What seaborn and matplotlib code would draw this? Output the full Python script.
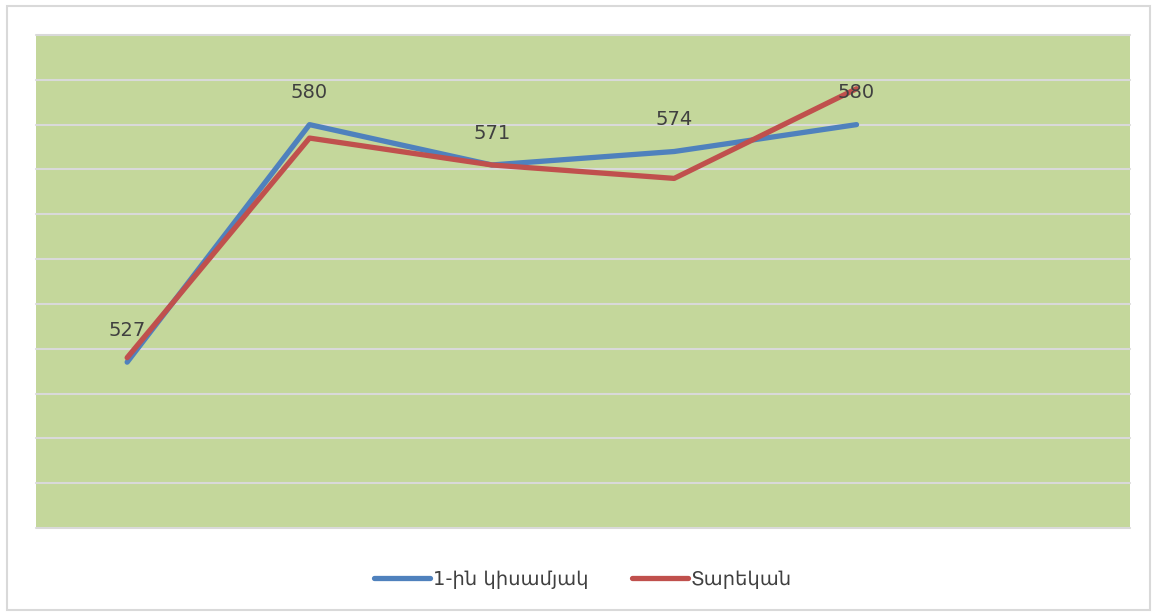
import matplotlib.pyplot as plt
import seaborn as sns
import pandas as pd

series_names = ["1-ին կիսամյակ", "Տարեկան"]
points = [0, 1, 2, 3, 4]
half_year = [527, 580, 571, 574, 580]
annual = [528, 577, 571, 568, 588]
colors = ["#4F81BD", "#C0504D"]

df = pd.DataFrame({
    "x": points * 2,
    "value": half_year + annual,
    "series": [series_names[0]] * 5 + [series_names[1]] * 5,
})

sns.set_style("white")
plt.rcParams["font.family"] = ["DejaVu Sans"]

fig = plt.figure(figsize=(11.57, 6.16), dpi=100)
ax = fig.add_axes([0.0311, 0.1429, 0.9456, 0.8003])
ax.set_facecolor("#C4D79B")

sns.lineplot(
    data=df, x="x", y="value", hue="series",
    palette=colors, linewidth=3.8, ax=ax,
    solid_capstyle="round", legend=True,
)

# light gridlines every 10
for v in range(490, 601, 10):
    ax.axhline(v, color="#D9D9D9", linewidth=1.5, zorder=0.5, clip_on=False)

ax.set_xlim(-0.5, 5.5)
ax.set_ylim(490, 600)
ax.set_xticks([])
ax.set_yticks([])
ax.set_xlabel("")
ax.set_ylabel("")
for s in ax.spines.values():
    s.set_visible(False)

# data labels for the first series
for xi, yi in zip(points, half_year):
    ax.annotate(str(yi), (xi, yi), xytext=(0, 23), textcoords="offset points",
                ha="center", va="center", fontsize=14, color="#404040")

leg = ax.legend(loc="center", bbox_to_anchor=(0.5, -0.104), ncol=2,
                frameon=False, fontsize=14, handlelength=2.9,
                columnspacing=2.2, handletextpad=0.15)
for t in leg.get_texts():
    t.set_color("#404040")
for line in leg.get_lines():
    line.set_linewidth(3.8)
    line.set_solid_capstyle("round")

# outer border
fig.patches.append(plt.Rectangle((0.006, 0.01), 0.988, 0.98, transform=fig.transFigure,
                                 fill=False, edgecolor="#D9D9D9", linewidth=1.5))

fig.savefig("out.png", dpi=100)
